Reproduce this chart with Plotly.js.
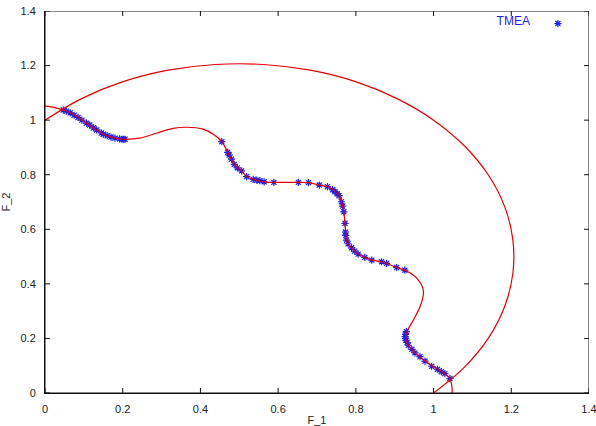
<!DOCTYPE html>
<html>
<head>
<meta charset="utf-8">
<script src="https://cdn.plot.ly/plotly-3.0.1.min.js"></script>
<style>html,body{margin:0;padding:0;background:#fff;}#chart{width:596px;height:426px;}</style>
</head>
<body>
<div id="chart"></div>
<script>
// Blue TMEA solutions (asterisks)
const tmeaX = [0.047,0.055,0.065,0.075,0.085,0.095,0.107,0.115,0.125,0.133,0.145,0.150,0.160,0.170,0.180,0.192,0.198,0.202,0.206,
  0.455,0.470,0.474,0.480,0.487,0.495,0.506,0.519,0.536,0.545,0.553,0.564,0.589,0.652,0.678,0.706,0.727,0.740,0.746,0.752,0.757,0.763,0.766,0.769,0.772,0.773,0.774,0.776,0.780,0.789,0.797,0.806,0.823,0.841,0.866,0.879,0.905,0.926,
  0.930,0.928,0.927,0.928,0.929,0.932,0.935,0.944,0.952,0.965,0.978,0.995,1.010,1.020,1.029,1.042];
const tmeaY = [1.037,1.033,1.027,1.018,1.010,1.000,0.989,0.982,0.972,0.964,0.953,0.948,0.943,0.938,0.934,0.931,0.930,0.930,0.930,
  0.921,0.882,0.872,0.857,0.838,0.825,0.814,0.793,0.783,0.780,0.778,0.774,0.772,0.772,0.771,0.762,0.756,0.745,0.738,0.730,0.723,0.701,0.685,0.664,0.622,0.590,0.578,0.560,0.547,0.532,0.520,0.509,0.497,0.487,0.481,0.475,0.460,0.450,
  0.225,0.215,0.207,0.200,0.193,0.185,0.175,0.160,0.147,0.133,0.117,0.098,0.087,0.078,0.071,0.053];

// Red wavy front curve
const frontX = [0,0.025,0.047,0.082,0.107,0.133,0.150,0.180,0.201,0.244,0.287,0.330,0.365,0.407,0.433,0.455,0.474,0.487,0.506,0.519,0.536,0.564,0.589,0.652,0.678,0.706,0.727,0.746,0.757,0.763,0.769,0.772,0.774,0.776,0.789,0.806,0.823,0.841,0.866,0.905,0.926,0.945,0.961,0.971,0.974,0.965,0.948,0.931,0.928,0.935,0.952,0.978,1.010,1.029,1.042,1.047,1.048];
const frontY = [1.052,1.046,1.037,1.013,0.989,0.964,0.948,0.934,0.930,0.934,0.952,0.970,0.974,0.967,0.948,0.921,0.872,0.838,0.814,0.793,0.783,0.774,0.772,0.772,0.771,0.762,0.756,0.738,0.723,0.701,0.664,0.622,0.585,0.554,0.532,0.509,0.497,0.487,0.481,0.460,0.450,0.435,0.414,0.390,0.365,0.316,0.267,0.224,0.200,0.175,0.147,0.117,0.087,0.071,0.053,0.025,0];

// Red outer arc
const arcX = [0,0.094,0.201,0.317,0.438,0.562,0.683,0.799,0.906,1.000,1.079,1.141,1.183,1.204,1.204,1.183,1.141,1.079,1.000];
const arcY = [1.000,1.079,1.141,1.183,1.204,1.204,1.183,1.141,1.079,1.000,0.906,0.799,0.683,0.562,0.438,0.317,0.201,0.094,0];

const xTicks = [0,0.2,0.4,0.6,0.8,1,1.2,1.4];
const yTicks = [0,0.2,0.4,0.6,0.8,1,1.2,1.4];

const red = 'rgb(226,0,0)';
const blue = 'rgb(30,30,230)';
const frameColor = '#111';

const W = 596, H = 426;
const M = {l: 45, r: 7, t: 11, b: 33};
const RANGE = [0, 1.4];
const TICK_PX = 5;

// Border box and mirrored inside ticks, built from the axis range and tick arrays
const span = RANGE[1] - RANGE[0];
const tlx = TICK_PX * span / (W - M.l - M.r);
const tly = TICK_PX * span / (H - M.t - M.b);
const frameX = [RANGE[0], RANGE[1], RANGE[1], RANGE[0], RANGE[0], null];
const frameY = [RANGE[0], RANGE[0], RANGE[1], RANGE[1], RANGE[0], null];
xTicks.forEach(v => {
  frameX.push(v, v, null, v, v, null);
  frameY.push(RANGE[0], RANGE[0] + tly, null, RANGE[1], RANGE[1] - tly, null);
});
yTicks.forEach(v => {
  frameX.push(RANGE[0], RANGE[0] + tlx, null, RANGE[1], RANGE[1] - tlx, null);
  frameY.push(v, v, null, v, v, null);
});

const traces = [
  {x: tmeaX, y: tmeaY, type: 'scatter', mode: 'markers', name: '', showlegend: true,
   marker: {symbol: 'asterisk-open', size: 6, color: blue, line: {color: blue, width: 1.2}}},
  {x: frontX, y: frontY, type: 'scatter', mode: 'lines', showlegend: false,
   line: {color: red, width: 1.2, shape: 'spline', smoothing: 0.8}},
  {x: arcX, y: arcY, type: 'scatter', mode: 'lines', showlegend: false,
   line: {color: red, width: 1.2, shape: 'spline', smoothing: 1}},
  {x: frameX, y: frameY, type: 'scatter', mode: 'lines', showlegend: false, hoverinfo: 'skip',
   cliponaxis: false, connectgaps: false, line: {color: frameColor, width: 1}}
];

const axisBase = {
  range: RANGE, tickmode: 'array', ticks: '', showline: true, linecolor: frameColor, linewidth: 1,
  showgrid: false, zeroline: false, ticklabeloverflow: 'allow', ticklabelstandoff: 6,
  tickfont: {family: 'Liberation Sans, Arial, sans-serif', size: 11, color: '#222'}
};

const layout = {
  width: W, height: H,
  margin: {l: M.l, r: M.r, t: M.t, b: M.b, pad: 0},
  paper_bgcolor: '#fff', plot_bgcolor: '#fff',
  font: {family: 'Liberation Sans, Arial, sans-serif', size: 11, color: '#222'},
  xaxis: Object.assign({}, axisBase, {tickvals: xTicks, ticktext: xTicks.map(String),
    title: {text: 'F_1', standoff: 10, font: {size: 11, color: '#222'}}}),
  yaxis: Object.assign({}, axisBase, {tickvals: yTicks, ticktext: yTicks.map(String),
    title: {text: 'F_2', standoff: 10, font: {size: 11, color: '#222'}}}),
  showlegend: true,
  legend: {x: 0.99, y: 1.005, xanchor: 'right', yanchor: 'top', bgcolor: 'rgba(0,0,0,0)',
    title: {text: 'TMEA', side: 'left', font: {color: blue, size: 12}},
    font: {size: 11}, itemwidth: 30}
};

Plotly.newPlot('chart', traces, layout, {displayModeBar: false});
</script>
</body>
</html>
